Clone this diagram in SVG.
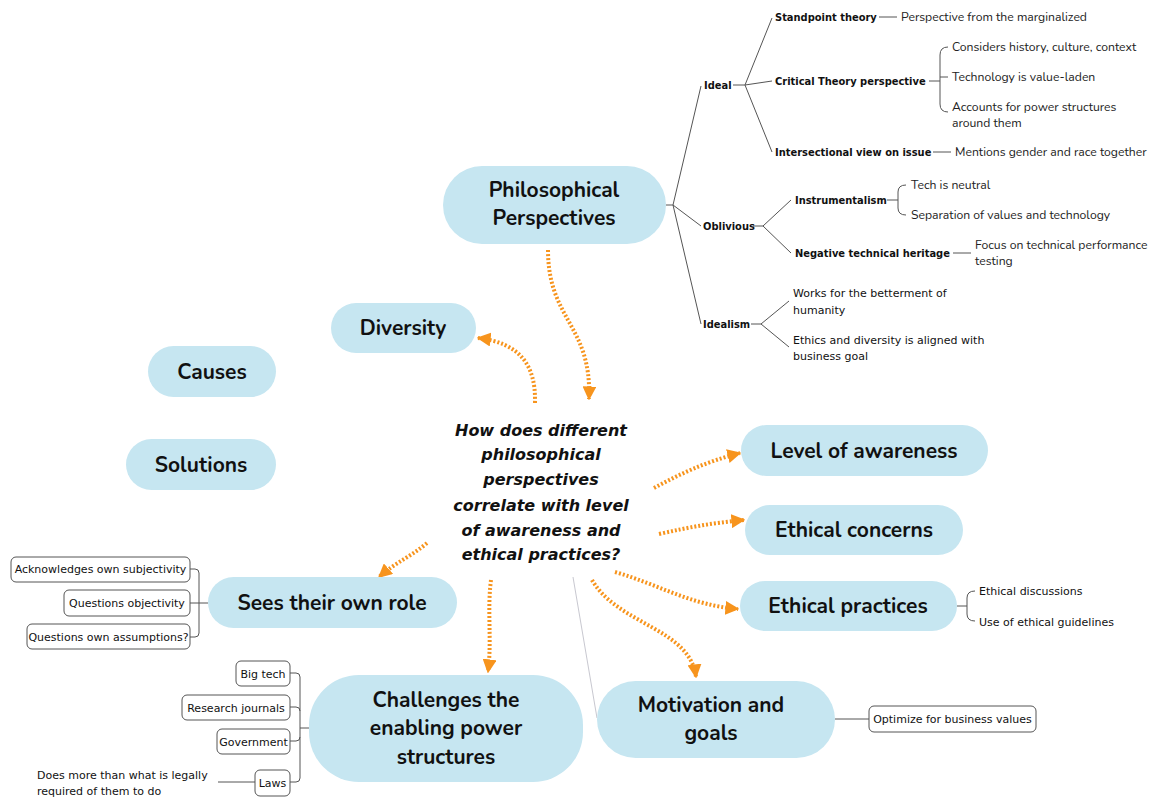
<svg xmlns="http://www.w3.org/2000/svg" width="1152" height="798" viewBox="0 0 1152 798">
  <style>
    .pill { fill: #C6E6F1; }
    .topic { font-family: "Nunito", "Lato", "Noto Sans", sans-serif; font-weight: 700; font-size: 21px; fill: #111; text-anchor: middle; }
    .central { font-family: "DejaVu Sans", sans-serif; font-weight: bold; font-style: italic; font-size: 16px; fill: #111; text-anchor: middle; }
    .label { font-family: "DejaVu Sans", sans-serif; font-size: 11px; fill: #111; }
    .sub { font-family: "DejaVu Sans Condensed", "DejaVu Sans", sans-serif; font-stretch: condensed; font-weight: bold; font-size: 11px; fill: #111; }
    .leaf { font-family: "Nunito", "Lato", "Noto Sans", sans-serif; font-size: 12.2px; fill: #222; }
    .branch { fill: none; stroke: #555; stroke-width: 1; }
    .faint { fill: none; stroke: #c8c8d0; stroke-width: 1; }
    .box { fill: #fff; stroke: #555; stroke-width: 1; }
    .rel { fill: none; stroke: #F7941D; stroke-width: 4; stroke-dasharray: 2 2; }
  </style>
  <defs>
    <marker id="tri" viewBox="0 0 10 10" refX="9" refY="5" markerWidth="14" markerHeight="14" markerUnits="userSpaceOnUse" orient="auto">
      <path d="M0,0 L10,5 L0,10 Z" fill="#F7941D"/>
    </marker>
  </defs>

  <rect width="1152" height="798" fill="#fff"/>

  <!-- connectors -->
  <g id="connectors">
    <!-- Philosophical Perspectives tree -->
    <path class="branch" d="M666,205 L673,205 M673,205 L701,86 M673,205 L701,226 M673,205 L701,324"/>
    <path class="branch" d="M733,85 L745,85 M745,85 L772,18 M745,85 L772,81 M745,85 L772,152"/>
    <path class="branch" d="M879,17 L897,17"/>
    <path class="branch" d="M929,81 L940,81 M948,47 Q940,47 940,55 L940,104 Q940,112 948,112 M940,77 L948,77"/>
    <path class="branch" d="M933,152 L951,152"/>
    <path class="branch" d="M753,226 L763,226 M763,226 L791,200 M763,226 L791,253"/>
    <path class="branch" d="M887,200 L898,200 M906,185 Q898,185 898,192 L898,208 Q898,215 906,215"/>
    <path class="branch" d="M953,253 L971,253"/>
    <path class="branch" d="M751,324 L761,324 M761,324 L789,301 M761,324 L789,347"/>

    <!-- Ethical practices -->
    <path class="branch" d="M957,606 L967,606 M975,591 Q967,591 967,598 L967,614 Q967,621 975,621"/>

    <!-- Motivation and goals -->
    <path class="branch" d="M835,719 L869,719"/>

    <!-- Sees their own role -->
    <path class="branch" d="M208,603 L190,603 M190,569 L195,569 Q199,569 199,573 L199,633 Q199,637 195,637 L190,637"/>

    <!-- Challenges the enabling power structures -->
    <path class="branch" d="M309,728 L300,728 M290,673 L296,673 Q300,673 300,677 L300,778 Q300,782 296,782 L290,782 M290,707 L296,707 Q300,707 300,711 M290,741 L296,741 Q300,741 300,737"/>
    <path class="branch" d="M218,782 L255,782"/>

    <!-- faint link from the question to Motivation and goals -->
    <path class="faint" d="M573,577 L597,718"/>

    <!-- orange relationship arrows -->
    <path class="rel" marker-end="url(#tri)" d="M548,250 C548,320 592,325 589,399"/>
    <path class="rel" marker-end="url(#tri)" d="M535,403 C536,365 520,343 478,338"/>
    <path class="rel" marker-end="url(#tri)" d="M654,488 C680,474 705,462 740,453"/>
    <path class="rel" marker-end="url(#tri)" d="M659,534 C690,527 712,523 744,520"/>
    <path class="rel" marker-end="url(#tri)" d="M615,572 C660,585 690,605 738,609"/>
    <path class="rel" marker-end="url(#tri)" d="M592,580 C618,625 690,628 696,677"/>
    <path class="rel" marker-end="url(#tri)" d="M491,580 C487,610 492,640 488,672"/>
    <path class="rel" marker-end="url(#tri)" d="M427,543 C412,556 396,562 379,577"/>
  </g>

  <!-- central question -->
  <g id="central">
    <text class="central" x="541" y="436">How does different</text>
    <text class="central" x="541" y="460">philosophical</text>
    <text class="central" x="541" y="485">perspectives</text>
    <text class="central" x="541" y="511">correlate with level</text>
    <text class="central" x="541" y="536">of awareness and</text>
    <text class="central" x="541" y="560">ethical practices?</text>
  </g>

  <g id="philosophical-perspectives">
    <rect class="pill" x="443" y="166" width="223" height="78" rx="39"/>
    <text class="topic" x="554" y="197">Philosophical</text>
    <text class="topic" x="554" y="225">Perspectives</text>
  </g>

  <g id="pp-details">
    <text class="sub" x="704" y="89">Ideal</text>
    <text class="sub" x="775" y="21">Standpoint theory</text>
    <text class="leaf" x="901" y="21">Perspective from the marginalized</text>
    <text class="sub" x="775" y="85">Critical Theory perspective</text>
    <text class="leaf" x="952" y="51">Considers history, culture, context</text>
    <text class="leaf" x="952" y="81">Technology is value-laden</text>
    <text class="leaf" x="952" y="111">Accounts for power structures</text>
    <text class="leaf" x="952" y="127">around them</text>
    <text class="sub" x="775" y="156">Intersectional view on issue</text>
    <text class="leaf" x="955" y="156">Mentions gender and race together</text>

    <text class="sub" x="703" y="230">Oblivious</text>
    <text class="sub" x="795" y="204">Instrumentalism</text>
    <text class="leaf" x="911" y="189">Tech is neutral</text>
    <text class="leaf" x="911" y="219">Separation of values and technology</text>
    <text class="sub" x="795" y="257">Negative technical heritage</text>
    <text class="leaf" x="975" y="249">Focus on technical performance</text>
    <text class="leaf" x="975" y="265">testing</text>

    <text class="sub" x="703" y="328">Idealism</text>
    <text class="label" x="793" y="297">Works for the betterment of</text>
    <text class="label" x="793" y="314">humanity</text>
    <text class="label" x="793" y="344">Ethics and diversity is aligned with</text>
    <text class="label" x="793" y="360">business goal</text>
  </g>

  <g id="diversity">
    <rect class="pill" x="331" y="303" width="145" height="50" rx="25"/>
    <text class="topic" x="403" y="335">Diversity</text>
  </g>

  <g id="causes">
    <rect class="pill" x="148" y="346" width="128" height="51" rx="25.5"/>
    <text class="topic" x="212" y="379">Causes</text>
  </g>

  <g id="solutions">
    <rect class="pill" x="126" y="439" width="150" height="51" rx="25.5"/>
    <text class="topic" x="201" y="472">Solutions</text>
  </g>

  <g id="level-of-awareness">
    <rect class="pill" x="741" y="425" width="247" height="51" rx="25.5"/>
    <text class="topic" x="864" y="458">Level of awareness</text>
  </g>

  <g id="ethical-concerns">
    <rect class="pill" x="745" y="505" width="218" height="50" rx="25"/>
    <text class="topic" x="854" y="537">Ethical concerns</text>
  </g>

  <g id="ethical-practices">
    <rect class="pill" x="740" y="581" width="217" height="50" rx="25"/>
    <text class="topic" x="848" y="613">Ethical practices</text>
    <text class="label" x="979" y="595">Ethical discussions</text>
    <text class="label" x="979" y="626">Use of ethical guidelines</text>
  </g>

  <g id="sees-their-own-role">
    <rect class="pill" x="208" y="577" width="249" height="51" rx="25.5"/>
    <text class="topic" x="332" y="610">Sees their own role</text>
    <rect class="box" x="11" y="557" width="179" height="25" rx="5"/>
    <text class="label" x="100.5" y="573" text-anchor="middle">Acknowledges own subjectivity</text>
    <rect class="box" x="64" y="590" width="126" height="26" rx="5"/>
    <text class="label" x="127" y="607" text-anchor="middle">Questions objectivity</text>
    <rect class="box" x="27" y="624" width="163" height="25" rx="5"/>
    <text class="label" x="108.5" y="641" text-anchor="middle">Questions own assumptions?</text>
  </g>

  <g id="challenges-power-structures">
    <rect class="pill" x="309" y="675" width="274" height="107" rx="50"/>
    <text class="topic" x="446" y="707">Challenges the</text>
    <text class="topic" x="446" y="735">enabling power</text>
    <text class="topic" x="446" y="764">structures</text>
    <rect class="box" x="236" y="661" width="54" height="25" rx="5"/>
    <text class="label" x="263" y="678" text-anchor="middle">Big tech</text>
    <rect class="box" x="182" y="695" width="108" height="25" rx="5"/>
    <text class="label" x="236" y="712" text-anchor="middle">Research journals</text>
    <rect class="box" x="217" y="729" width="73" height="25" rx="5"/>
    <text class="label" x="253.5" y="746" text-anchor="middle">Government</text>
    <rect class="box" x="255" y="770" width="35" height="26" rx="5"/>
    <text class="label" x="272.5" y="787" text-anchor="middle">Laws</text>
    <text class="label" x="37" y="779">Does more than what is legally</text>
    <text class="label" x="37" y="795">required of them to do</text>
  </g>

  <g id="motivation-and-goals">
    <rect class="pill" x="597" y="681" width="238" height="77" rx="38.5"/>
    <text class="topic" x="711" y="712">Motivation and</text>
    <text class="topic" x="711" y="740">goals</text>
    <rect class="box" x="869" y="706" width="167" height="26" rx="5"/>
    <text class="label" x="952.5" y="723" text-anchor="middle">Optimize for business values</text>
  </g>
</svg>
